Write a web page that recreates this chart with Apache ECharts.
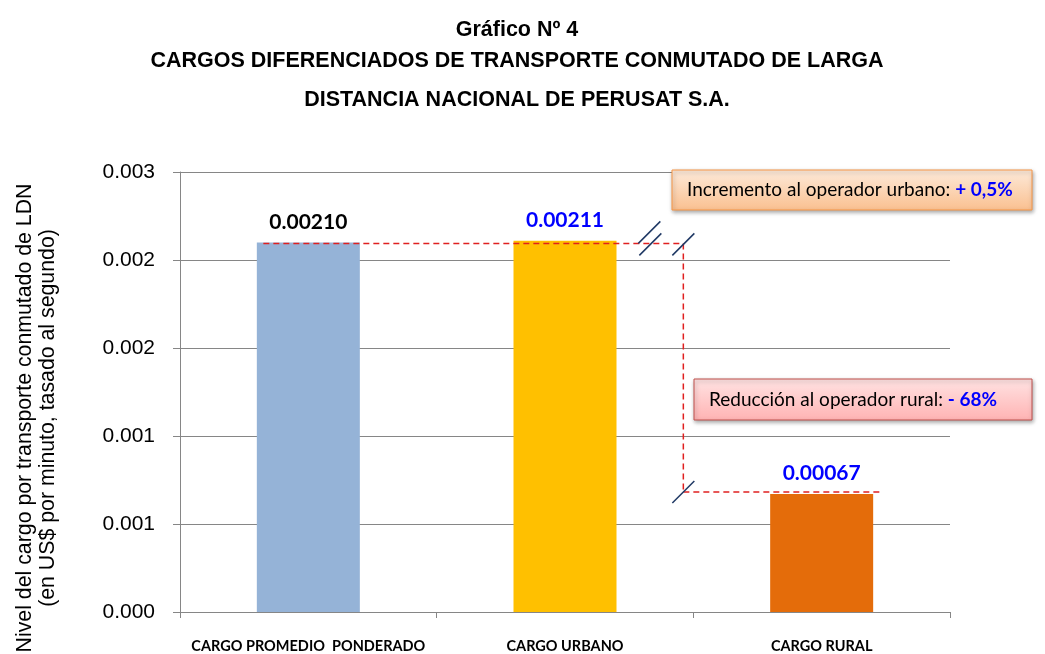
<!DOCTYPE html>
<html>
<head>
<meta charset="utf-8">
<script src="https://cdn.jsdelivr.net/npm/echarts@6/dist/echarts.min.js"></script>
<style>
  html, body { margin: 0; padding: 0; background: #fff; }
  #chart { width: 1045px; height: 654px; }
</style>
</head>
<body>
<div id="chart"></div>
<script>
const categories = ['CARGO PROMEDIO  PONDERADO', 'CARGO URBANO', 'CARGO RURAL'];
const values = [0.00210, 0.00211, 0.00067];
const valueLabels = ['0.00210', '0.00211', '0.00067'];
const yTickLabels = ['0.000', '0.001', '0.001', '0.002', '0.002', '0.003'];
const titleLines = [
  'Gráfico Nº 4',
  'CARGOS DIFERENCIADOS DE TRANSPORTE CONMUTADO DE LARGA',
  'DISTANCIA NACIONAL DE PERUSAT S.A.'
];
const yName = ['Nivel del cargo por transporte conmutado de LDN', '(en US$ por minuto, tasado al segundo)'];
const noteUrban = ['Incremento al operador urbano: ', '+ 0,5%'];
const noteRural = ['Reducción al operador rural: ', '- 68%'];

const barColors = ['#95B3D7', '#FFC000', '#E46C0A'];
const labelColors = ['#000000', '#0000FF', '#0000FF'];
const gray = '#868686';

const myChart = echarts.init(document.getElementById('chart'));

const option = {
  animation: false,
  grid: { left: 180, right: 95, top: 172, bottom: 42 },
  xAxis: {
    type: 'category',
    data: categories,
    axisLine: { lineStyle: { color: gray, width: 1 } },
    axisTick: { show: true, length: 6, lineStyle: { color: gray } },
    axisLabel: {
      interval: 0,
      margin: 27,
      color: '#000',
      fontFamily: 'Lato',
      fontWeight: 'bold',
      fontSize: 14.5,
    },
  },
  yAxis: {
    type: 'value',
    min: 0,
    max: 0.0025,
    interval: 0.0005,
    axisLine: { show: true, lineStyle: { color: gray, width: 1 } },
    axisTick: { show: true, length: 7, lineStyle: { color: gray } },
    splitLine: { lineStyle: { color: gray, width: 1 } },
    axisLabel: {
      margin: 25,
      color: '#000',
      fontFamily: 'Liberation Sans',
      fontSize: 21,
      formatter: (v) => yTickLabels[Math.round(v / 0.0005)],
    },
  },
  series: [{
    type: 'bar',
    barWidth: 103,
    data: values.map((v, i) => ({
      value: v,
      itemStyle: { color: barColors[i] },
      label: { color: labelColors[i] },
    })),
    label: {
      show: true,
      position: 'top',
      distance: 10,
      fontFamily: 'Lato',
      fontWeight: 'bold',
      fontSize: 21,
      formatter: (p) => valueLabels[p.dataIndex],
    },
  }],
};

myChart.setOption(option);

// anotaciones: lineas punteadas, cortes y cuadros de texto
const px = (i, v) => myChart.convertToPixel({ seriesIndex: 0 }, [i, v]);
const p0 = px(0, values[0]);
const p1 = px(1, values[1]);
const p2 = px(2, values[2]);
const yTop = p0[1] + 1;
const yLow = p2[1] - 2;
const xBreak = (p1[0] + p2[0]) / 2 - 10;
const dash = { stroke: '#E02020', lineWidth: 1.5, lineDash: [6, 4] };
const slashStyle = { stroke: '#1F3864', lineWidth: 1.5 };
const slash = (cx, cy) => ({
  type: 'line',
  shape: { x1: cx - 11, y1: cy + 11, x2: cx + 11, y2: cy - 11 },
  style: slashStyle,
  z: 20,
});

const graphics = [];
titleLines.forEach((t, i) => {
  graphics.push({
    type: 'text',
    x: 517,
    y: [30, 61, 100][i],
    style: {
      text: t,
      fill: '#000',
      font: 'bold 21.5px "Liberation Sans"',
      textAlign: 'center',
      textVerticalAlign: 'middle',
    },
  });
});
yName.forEach((t, i) => {
  graphics.push({
    type: 'text',
    x: [25, 48][i],
    y: 418,
    rotation: Math.PI / 2,
    style: {
      text: t,
      fill: '#000',
      font: '21.3px "Liberation Sans"',
      textAlign: 'center',
      textVerticalAlign: 'middle',
    },
  });
});

graphics.push(
  { type: 'line', shape: { x1: p0[0] - 45, y1: yTop, x2: xBreak, y2: yTop }, style: dash, z: 10 },
  { type: 'line', shape: { x1: xBreak, y1: yTop, x2: xBreak, y2: yLow }, style: dash, z: 10 },
  { type: 'line', shape: { x1: xBreak, y1: yLow, x2: p2[0] + 60, y2: yLow }, style: dash, z: 10 },
  slash(xBreak - 34, yTop - 11),
  slash(xBreak - 33, yTop + 1),
  slash(xBreak, yTop + 1),
  slash(xBreak, yLow),
);

const noteBox = (x, y, w, h, c1, c2, border, note) => ({
  type: 'group',
  x: x,
  y: y,
  z: 30,
  children: [
    {
      type: 'rect',
      shape: { x: 0, y: 0, width: w, height: h },
      style: {
        fill: new echarts.graphic.LinearGradient(0, 0, 0, 1, [
          { offset: 0, color: c1 },
          { offset: 1, color: c2 },
        ]),
        stroke: border,
        lineWidth: 1,
        shadowBlur: 4,
        shadowOffsetX: 1,
        shadowOffsetY: 2,
        shadowColor: 'rgba(0,0,0,0.35)',
      },
    },
    {
      type: 'text',
      x: 15,
      y: h / 2,
      style: {
        rich: {
          a: { fontFamily: 'Lato', fontSize: 19, fill: '#000' },
          b: { fontFamily: 'Lato', fontSize: 19, fontWeight: 'bold', fill: '#0000FF' },
        },
        text: '{a|' + note[0] + '}{b|' + note[1] + '}',
        textVerticalAlign: 'middle',
      },
    },
  ],
});

graphics.push(
  noteBox(672, 170, 360, 40, '#FDEADA', '#FAC090', '#F79646', noteUrban),
  noteBox(694, 379, 338, 41, '#FFE3E3', '#FFB3B3', '#C0504D', noteRural),
);

myChart.setOption({ graphic: graphics });
</script>
</body>
</html>
